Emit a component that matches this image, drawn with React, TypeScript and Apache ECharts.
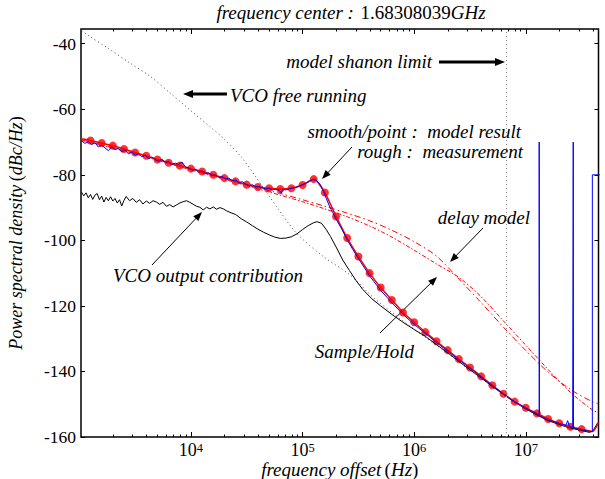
import { useEffect, useRef } from 'react';
import * as echarts from 'echarts';

const FONT = 'Liberation Serif';
const X_MIN = 1035;
const X_MAX = 4.48e7;
const Y_MIN = -160;
const Y_MAX = -35.5;
const Y_TICKS = [-160, -140, -120, -100, -80, -60, -40];
const X_DECADES = [4, 5, 6, 7];
const SHANNON_HZ = 6.7e6;

// model result (smooth line + points)
const modelHz = [
  1259, 1585, 1995, 2512, 3162, 3981, 5012, 6310, 7943,
  1.0e4, 1.259e4, 1.585e4, 1.995e4, 2.512e4, 3.162e4, 3.981e4, 5.012e4, 6.31e4, 7.943e4,
  1.0e5, 1.259e5, 1.585e5, 1.995e5, 2.512e5, 3.162e5, 3.981e5, 5.012e5, 6.31e5, 7.943e5,
  1.0e6, 1.259e6, 1.585e6, 1.995e6, 2.512e6, 3.162e6, 3.981e6, 5.012e6, 6.31e6, 7.943e6,
  1.0e7, 1.259e7, 1.585e7, 1.995e7, 2.512e7, 3.162e7,
];
const modelDb = [
  -69.5, -70.3, -71.1, -72.1, -73.2, -74.2, -75.3, -76.3, -77.2,
  -78.1, -79.0, -80.0, -81.0, -82.0, -83.0, -83.7, -84.1, -84.3, -84.1,
  -83.1, -81.3, -85.4, -92.7, -99.3, -104.9, -110.0, -114.4, -118.2, -122.0,
  -125.0, -128.0, -130.8, -133.5, -136.2, -138.8, -141.5, -144.2, -146.8, -149.2,
  -151.1, -152.8, -154.5, -155.8, -156.9, -157.6,
];
const modelEdgeHz = [1040, 3.981e7, 4.48e7];
const modelEdgeDb = [-69.0, -158.3, -155.5];

// measurement (rough)
const measHz = [
  1047, 1122, 1202, 1288, 1380, 1479, 1585, 1698, 1820, 1950, 2089, 2239, 2399, 2570, 2754, 2951,
  3162, 3388, 3631, 3890, 4169, 4467, 4786, 5129, 5495, 5888, 6310, 6761, 7244, 7762, 8318, 8913, 9550,
  10230, 10960, 11750, 12590, 13490, 14450, 15490, 16600, 17780, 19050, 20420, 21880, 23440, 25120,
  26920, 28840, 30900, 33110, 35480, 38020, 40740, 43650, 46770, 50120, 53700, 57540, 61660, 64570,
  66070, 70790, 75860, 81280, 87100, 93330,
  1.0e5, 1.072e5, 1.148e5, 1.23e5, 1.318e5, 1.413e5, 1.514e5, 1.622e5, 1.738e5, 1.862e5, 1.995e5,
  2.239e5, 2.512e5, 2.818e5, 3.162e5, 3.981e5, 5.012e5, 6.31e5, 7.943e5,
  1.0e6, 1.259e6, 1.585e6, 1.995e6, 2.512e6, 3.162e6, 3.981e6, 5.012e6, 6.31e6, 7.943e6,
  1.0e7, 1.259e7, 1.318e7, 1.318e7, 1.324e7, 1.324e7, 1.585e7, 1.995e7, 2.291e7, 2.371e7, 2.455e7,
  2.63e7, 2.661e7, 2.661e7, 2.674e7, 2.674e7, 3.162e7, 3.715e7, 3.945e7, 3.945e7, 4.6e7,
];
const measDb = [
  -69.6, -70.4, -69.9, -70.8, -70.2, -71.5, -70.9, -71.8, -72.6, -71.5, -72.3, -71.9, -73.0, -72.4, -73.6, -73.1,
  -74.0, -73.5, -74.5, -74.0, -75.1, -74.6, -75.4, -75.9, -75.2, -76.3, -75.9, -76.9, -76.4, -76.8, -76.1, -77.6, -77.9,
  -78.6, -78.3, -79.2, -78.8, -79.6, -79.4, -80.2, -80.0, -80.8, -80.5, -81.2, -81.0, -81.8, -81.6,
  -82.3, -82.1, -82.8, -83.3, -83.0, -83.7, -83.5, -84.0, -84.3, -84.2, -84.6, -84.4, -84.7, -85.6,
  -84.5, -84.6, -84.3, -84.0, -83.8, -83.4,
  -83.0, -82.5, -82.0, -81.5, -81.6, -82.6, -84.5, -87.0, -89.5, -91.5, -93.5,
  -96.5, -99.8, -102.8, -105.5, -110.8, -115.3, -119.0, -122.6,
  -125.6, -128.4, -131.2, -133.8, -136.5, -139.0, -141.7, -144.3, -146.9, -149.3,
  -151.2, -153.0, -153.3, -70.0, -70.0, -153.5, -154.8, -155.9, -156.4, -155.0, -156.8,
  -157.1, -157.2, -70.0, -70.0, -157.3, -157.8, -158.3, -158.4, -80.0, -80.0,
];

// VCO output contribution (black solid)
const vcoOutHz = [
  1047, 1096, 1148, 1202, 1259, 1318, 1380, 1445, 1514, 1585, 1660, 1738, 1820, 1905, 1995, 2089, 2188,
  2291, 2399, 2512, 2630, 2818, 3020, 3236, 3467, 3715, 3981, 4266, 4571, 4898, 5248, 5623, 6026, 6457,
  6918, 7413, 7943, 8511, 9120, 9772, 10470, 11220, 12020, 12880, 13800, 14790, 15850, 16980, 18200,
  19500, 20890, 22910, 25120, 28180, 31620, 35480, 39810, 44670, 50120, 56230, 63100, 70790, 79430,
  89130, 1.0e5, 1.122e5, 1.259e5, 1.349e5, 1.479e5, 1.622e5, 1.778e5, 1.995e5, 2.291e5, 2.63e5,
  3.02e5, 3.467e5, 4.169e5, 5.012e5, 6.31e5, 7.943e5, 1.0e6, 1.259e6, 1.585e6, 1.995e6, 2.512e6,
  3.162e6, 3.981e6, 5.012e6, 6.31e6, 7.943e6, 1.0e7, 1.259e7, 1.585e7, 1.995e7, 2.512e7, 3.162e7,
  3.715e7, 3.981e7, 4.416e7,
];
const vcoOutDb = [
  -85.3, -86.4, -85.5, -87.0, -86.0, -87.5, -86.2, -85.7, -87.6, -86.5, -88.3, -86.9, -87.9, -86.7, -88.0, -87.2, -88.6,
  -87.6, -89.5, -87.8, -86.6, -87.9, -87.2, -88.4, -87.6, -88.9, -88.0, -88.7, -87.9, -88.3, -89.0, -88.4, -89.6, -89.1,
  -89.8, -89.2, -88.6, -88.2, -87.9, -88.4, -89.0, -89.6, -89.9, -90.7, -89.9, -90.4, -89.8, -90.5, -90.0,
  -90.4, -91.0, -91.6, -92.1, -93.4, -94.4, -95.5, -96.6, -97.5, -98.3, -99.0, -99.4, -99.3, -98.9,
  -98.0, -96.7, -95.5, -94.6, -94.3, -94.8, -96.6, -98.8, -102.0, -106.0, -109.2,
  -112.3, -115.0, -117.8, -120.0, -122.6, -125.0, -127.2, -129.3, -131.8, -134.3, -136.9,
  -139.5, -142.0, -144.6, -147.0, -149.4, -151.4, -153.3, -155.0, -156.2, -157.3, -158.0,
  -158.6, -158.2, -155.6,
];

// VCO free running (dotted)
const vcoFreeHz = [1047, 1247, 1884, 2844, 4295, 6486, 9795, 14790, 19450, 28180, 38730, 58480, 88310, 1.528e5, 2.649e5, 4.266e5, 7.079e5, 1.259e6, 1.995e6, 3.162e6];
const vcoFreeDb = [-36.0, -37.8, -41.8, -45.9, -49.9, -55.0, -60.2, -65.3, -68.8, -74.5, -81.0, -89.7, -97.8, -104.9, -110.5, -117.3, -123.3, -129.6, -134.5, -139.7];

// delay model (two dash-dot curves)
const delayHz = [
  1047, 3162, 1.0e4, 3.162e4, 3.981e4, 6.31e4, 1.0e5, 1.585e5, 2.512e5, 3.981e5, 6.31e5,
  1.0e6, 1.585e6, 2.512e6, 3.981e6, 6.31e6, 1.0e7, 1.585e7, 2.512e7, 3.981e7, 4.467e7,
];
const delayADb = [
  -69.3, -73.4, -78.3, -83.0, -84.0, -85.7, -87.6, -89.6, -91.7, -94.0, -96.9,
  -100.4, -104.8, -111.8, -119.0, -126.5, -133.6, -140.2, -145.5, -149.3, -149.8,
];
const delayBDb = [
  -69.5, -73.6, -78.5, -83.3, -84.3, -86.2, -88.2, -90.4, -92.8, -95.6, -99.0,
  -103.0, -107.2, -111.3, -117.2, -124.6, -132.0, -139.4, -146.4, -151.8, -152.6,
];

const zip = (xs: number[], ys: number[]) => xs.map((x, i) => [x, ys[i]]);

const LX_MIN = Math.log10(X_MIN);
const LX_MAX = Math.log10(X_MAX);
const minorLog: number[] = [];
for (let d = 3; d <= 7; d++) {
  for (let k = 2; k <= 9; k++) {
    const v = Math.log10(k * Math.pow(10, d));
    if (v > LX_MIN && v < LX_MAX) minorLog.push(v);
  }
}

const TS = 19;
const it = (s: number) => ({ fontFamily: FONT, fontStyle: 'italic', fontSize: s, color: '#000' });
const up = (s: number) => ({ fontFamily: FONT, fontSize: s, color: '#000' });

function arrow(x1: number, y1: number, x2: number, y2: number, w: number, head: number, hw: number) {
  const dx = x2 - x1, dy = y2 - y1;
  const L = Math.hypot(dx, dy);
  const ux = dx / L, uy = dy / L;
  const bx = x2 - ux * head, by = y2 - uy * head;
  return [
    { type: 'line', silent: true, shape: { x1, y1, x2: bx + ux * 1, y2: by + uy * 1 }, style: { stroke: '#000', lineWidth: w } },
    {
      type: 'polygon', silent: true,
      shape: { points: [[x2, y2], [bx - uy * hw, by + ux * hw], [bx + uy * hw, by - ux * hw]] },
      style: { fill: '#000' },
    },
  ];
}

function txt(x: number, y: number, text: string, align: string) {
  return {
    type: 'text', silent: true, x, y,
    style: {
      text, align, verticalAlign: 'middle',
      fontFamily: FONT, fontStyle: 'italic', fontSize: TS, fill: '#000',
    },
  };
}

export default function App() {
  const ref = useRef<HTMLDivElement>(null);
  useEffect(() => {
    if (!ref.current) return;
    const chart = echarts.init(ref.current, undefined, { renderer: 'svg' });
    const tickAxis = (pos: 'top' | 'bottom', vals: number[], len: number, labels: boolean) => ({
      type: 'value', position: pos, min: LX_MIN, max: LX_MAX, gridIndex: 0,
      axisLine: { show: false },
      splitLine: { show: false },
      axisTick: { show: true, inside: true, length: len, customValues: vals, lineStyle: { color: '#000', width: 1 } },
      axisLabel: labels
        ? {
            show: true, customValues: vals, margin: 4,
            formatter: (v: number) => `{b|10}{s|${Math.round(v)}}`,
            rich: {
              b: { ...up(18), verticalAlign: 'bottom', lineHeight: 18 },
              s: { ...up(12.5), verticalAlign: 'top', lineHeight: 18 },
            },
          }
        : { show: false },
      ...(labels
        ? {
            name: '{i|frequency offset} {n|(}{i|Hz}{n|)}',
            nameLocation: 'middle', nameGap: 23, nameMoveOverlap: false,
            nameTextStyle: { rich: { i: it(TS), n: up(TS) } },
          }
        : {}),
    });
    const yTick = (pos: 'left' | 'right', labels: boolean) => ({
      type: 'value', position: pos, min: Y_MIN, max: Y_MAX,
      axisLine: { show: false },
      splitLine: { show: false },
      axisTick: { show: true, inside: true, length: 4, customValues: Y_TICKS, lineStyle: { color: '#000', width: 1 } },
      axisLabel: labels ? { show: true, customValues: Y_TICKS, margin: 5, ...up(17.5) } : { show: false },
      ...(labels
        ? {
            name: '{i|Power spectral density} {n|(}{i|dBc/Hz}{n|)}',
            nameLocation: 'middle', nameGap: 56, nameMoveOverlap: false,
            nameTextStyle: { rich: { i: it(18), n: up(18) } },
          }
        : {}),
    });
    const option: any = {
      animation: false,
      backgroundColor: '#fff',
      grid: {
        left: 81, right: 6.5, top: 29, bottom: 42,
        containLabel: false, outerBoundsMode: 'none',
        show: true, borderColor: '#000', borderWidth: 1.5, backgroundColor: 'transparent',
      },
      xAxis: [
        { type: 'log', logBase: 10, min: X_MIN, max: X_MAX, show: false },
        tickAxis('bottom', X_DECADES, 5, true),
        tickAxis('bottom', minorLog, 2.5, false),
        tickAxis('top', X_DECADES, 5, false),
        tickAxis('top', minorLog, 2.5, false),
      ],
      yAxis: [yTick('left', true), yTick('right', false)],
      series: [
        {
          type: 'line', name: 'VCO free running', xAxisIndex: 0, yAxisIndex: 0,
          data: zip(vcoFreeHz, vcoFreeDb), showSymbol: false, smooth: 0.3,
          lineStyle: { color: '#444', width: 1, type: [1, 3] },
          markLine: {
            silent: true, symbol: 'none', label: { show: false },
            lineStyle: { color: '#888', width: 1, type: [1, 3] },
            data: [{ xAxis: SHANNON_HZ }],
          },
        },
        {
          type: 'line', name: 'VCO output', xAxisIndex: 0, yAxisIndex: 0,
          data: zip(vcoOutHz, vcoOutDb), showSymbol: false,
          lineStyle: { color: '#000', width: 1 },
        },
        {
          type: 'line', name: 'delay A', xAxisIndex: 0, yAxisIndex: 0,
          data: zip(delayHz, delayADb), showSymbol: false, smooth: 0.3,
          lineStyle: { color: '#ff0000', width: 1, type: [6, 3, 1.5, 3] },
        },
        {
          type: 'line', name: 'delay B', xAxisIndex: 0, yAxisIndex: 0,
          data: zip(delayHz, delayBDb), showSymbol: false, smooth: 0.3,
          lineStyle: { color: '#ff0000', width: 1, type: [4, 2, 1.5, 2] },
        },
        {
          type: 'line', name: 'model line', xAxisIndex: 0, yAxisIndex: 0,
          data: zip([modelEdgeHz[0], ...modelHz, modelEdgeHz[1], modelEdgeHz[2]], [modelEdgeDb[0], ...modelDb, modelEdgeDb[1], modelEdgeDb[2]]),
          showSymbol: false, smooth: 0.2,
          lineStyle: { color: '#ff0000', width: 1.5 },
        },
        {
          type: 'scatter', name: 'model points', xAxisIndex: 0, yAxisIndex: 0,
          data: zip(modelHz, modelDb), symbol: 'circle', symbolSize: 8,
          itemStyle: { color: '#ff0000' },
        },
        {
          type: 'line', name: 'measurement', xAxisIndex: 0, yAxisIndex: 0,
          data: zip(measHz, measDb), showSymbol: false,
          lineStyle: { color: '#0000ff', width: 1 },
        },
      ],
      graphic: [
        {
          type: 'text', silent: true, x: 351, y: 12,
          style: {
            text: '{i|frequency center :}  {n|1.68308039}{i|GHz}', align: 'center', verticalAlign: 'middle',
            rich: { i: { fontFamily: FONT, fontStyle: 'italic', fontSize: TS, fill: '#000' }, n: { fontFamily: FONT, fontSize: TS, fill: '#000' } },
          },
        },
        txt(432, 61, 'model shanon limit', 'right'),
        ...arrow(439, 62, 505, 62, 3, 10, 4),
        txt(230, 95, 'VCO free running', 'left'),
        ...arrow(227, 94, 183, 94, 3, 10, 4),
        txt(521, 131, 'smooth/point :  model result', 'right'),
        txt(523, 151, 'rough :  measurement', 'right'),
        ...arrow(352, 147, 322, 179, 1, 9, 3.5),
        txt(530, 217, 'delay model', 'right'),
        ...arrow(483, 228, 450, 262, 1, 9, 3.5),
        txt(113, 275, 'VCO output contribution', 'left'),
        ...arrow(152, 265, 202, 212, 1, 9, 3.5),
        txt(414, 351, 'Sample/Hold', 'right'),
        ...arrow(380, 333, 437, 277, 1, 9, 3.5),
      ],
    };
    chart.setOption(option);
    return () => chart.dispose();
  }, []);
  return <div ref={ref} style={{ width: 605, height: 479, position: 'absolute', left: 0, top: 0 }} />;
}
